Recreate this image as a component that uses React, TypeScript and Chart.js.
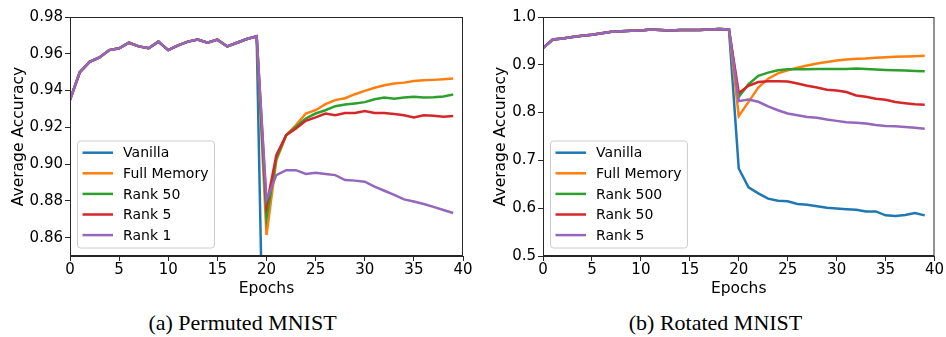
import React, { useEffect, useRef } from "react";
import { Chart, registerables } from "chart.js";

Chart.register(...registerables);

const epochs = [0, 1, 2, 3, 4, 5, 6, 7, 8, 9, 10, 11, 12, 13, 14, 15, 16, 17, 18, 19, 20, 21, 22, 23, 24, 25, 26, 27, 28, 29, 30, 31, 32, 33, 34, 35, 36, 37, 38, 39];
const xTicks = [0, 5, 10, 15, 20, 25, 30, 35, 40];

// (a) Permuted MNIST
const permTicksY = [0.86, 0.88, 0.9, 0.92, 0.94, 0.96, 0.98];
const permLabels = ["Vanilla", "Full Memory", "Rank 50", "Rank 5", "Rank 1"];
const permPhase1 = [0.935, 0.95, 0.9556, 0.958, 0.962, 0.963, 0.966, 0.964, 0.963, 0.9666, 0.962, 0.9646, 0.9666, 0.9677, 0.966, 0.9677, 0.964, 0.966, 0.968, 0.9695];
const permVanilla2 = [0.70, 0.71, 0.71, 0.70, 0.70, 0.70, 0.69, 0.69, 0.69, 0.69, 0.68, 0.68, 0.68, 0.68, 0.67, 0.67, 0.67, 0.67, 0.66, 0.66];
const permFull2 = [0.8614, 0.902, 0.9157, 0.9212, 0.9275, 0.9293, 0.9326, 0.9348, 0.9358, 0.938, 0.9398, 0.9415, 0.9429, 0.9438, 0.9443, 0.9452, 0.9456, 0.9458, 0.9461, 0.9465];
const permRank50_2 = [0.8705, 0.903, 0.9157, 0.9203, 0.9248, 0.9275, 0.9293, 0.9315, 0.9324, 0.933, 0.9337, 0.9353, 0.9362, 0.9355, 0.9362, 0.9366, 0.9362, 0.9364, 0.9368, 0.9378];
const permRank5_2 = [0.8773, 0.9049, 0.9157, 0.9194, 0.9235, 0.9254, 0.9275, 0.9266, 0.9278, 0.9278, 0.9288, 0.9278, 0.9278, 0.9272, 0.9266, 0.9254, 0.9265, 0.9263, 0.9257, 0.9261];
const permRank1_2 = [0.8804, 0.894, 0.8967, 0.8967, 0.8946, 0.8953, 0.8946, 0.894, 0.8913, 0.891, 0.8904, 0.8877, 0.8855, 0.8832, 0.8808, 0.8796, 0.8783, 0.8767, 0.875, 0.8734];

// (b) Rotated MNIST
const rotTicksY = [0.5, 0.6, 0.7, 0.8, 0.9, 1.0];
const rotLabels = ["Vanilla", "Full Memory", "Rank 500", "Rank 50", "Rank 5"];
const rotPhase1 = [0.935, 0.953, 0.955, 0.958, 0.961, 0.963, 0.966, 0.969, 0.97, 0.971, 0.972, 0.974, 0.973, 0.972, 0.973, 0.973, 0.973, 0.974, 0.975, 0.974];
const rotVanilla2 = [0.683, 0.6435, 0.631, 0.62, 0.6156, 0.6143, 0.609, 0.607, 0.604, 0.601, 0.5996, 0.598, 0.5968, 0.5933, 0.5933, 0.585, 0.5838, 0.586, 0.59, 0.585];
const rotFull2 = [0.7926, 0.8224, 0.8525, 0.871, 0.882, 0.8886, 0.894, 0.8985, 0.9027, 0.906, 0.909, 0.911, 0.9124, 0.9131, 0.9145, 0.916, 0.9166, 0.9173, 0.918, 0.9187];
const rotRank500_2 = [0.833, 0.8594, 0.877, 0.8837, 0.8886, 0.8907, 0.8907, 0.8907, 0.891, 0.891, 0.891, 0.8914, 0.892, 0.891, 0.89, 0.8893, 0.8886, 0.8879, 0.887, 0.8865];
const rotRank50_2 = [0.841, 0.856, 0.864, 0.8656, 0.8656, 0.865, 0.861, 0.856, 0.8526, 0.848, 0.8463, 0.843, 0.8358, 0.833, 0.829, 0.827, 0.822, 0.8198, 0.8177, 0.8163];
const rotRank5_2 = [0.824, 0.8274, 0.8226, 0.813, 0.805, 0.798, 0.7946, 0.791, 0.789, 0.7855, 0.7827, 0.78, 0.779, 0.777, 0.774, 0.772, 0.7715, 0.77, 0.7685, 0.7664];

const colors = ["#1f77b4", "#ff7f0e", "#2ca02c", "#d62728", "#9467bd"];
const FONT = "'DejaVu Sans', sans-serif";

const framePlugin = {
  id: "frame",
  afterDatasetsDraw(chart: any) {
    const { ctx, chartArea } = chart;
    ctx.save();
    ctx.strokeStyle = "#262626";
    ctx.lineWidth = 1;
    ctx.strokeRect(chartArea.left + 0.5, chartArea.top + 0.5, chartArea.right - chartArea.left - 1, chartArea.bottom - chartArea.top - 1);
    ctx.restore();
  },
};

const legendPlugin = {
  id: "innerLegend",
  afterDraw(chart: any) {
    const { ctx, chartArea } = chart;
    const ds = chart.data.datasets;
    ctx.save();
    ctx.font = `14px ${FONT}`;
    let maxW = 0;
    ds.forEach((d: any) => { maxW = Math.max(maxW, ctx.measureText(d.label).width); });
    const rowH = 20.6;
    const x0 = chartArea.left + 7.5;
    const h = 107;
    const y0 = chartArea.bottom - 8 - h;
    const w = 45.6 + maxW + 6;
    const r = 3;
    ctx.beginPath();
    ctx.moveTo(x0 + r, y0);
    ctx.lineTo(x0 + w - r, y0);
    ctx.quadraticCurveTo(x0 + w, y0, x0 + w, y0 + r);
    ctx.lineTo(x0 + w, y0 + h - r);
    ctx.quadraticCurveTo(x0 + w, y0 + h, x0 + w - r, y0 + h);
    ctx.lineTo(x0 + r, y0 + h);
    ctx.quadraticCurveTo(x0, y0 + h, x0, y0 + h - r);
    ctx.lineTo(x0, y0 + r);
    ctx.quadraticCurveTo(x0, y0, x0 + r, y0);
    ctx.closePath();
    ctx.fillStyle = "rgba(255,255,255,0.8)";
    ctx.fill();
    ctx.strokeStyle = "#cccccc";
    ctx.lineWidth = 1;
    ctx.stroke();
    ds.forEach((d: any, i: number) => {
      const cy = y0 + 11.7 + i * rowH;
      ctx.beginPath();
      ctx.strokeStyle = d.borderColor;
      ctx.lineWidth = 2.5;
      ctx.moveTo(x0 + 5, cy);
      ctx.lineTo(x0 + 35.5, cy);
      ctx.stroke();
      ctx.fillStyle = "#000";
      ctx.textBaseline = "middle";
      ctx.textAlign = "left";
      ctx.fillText(d.label, x0 + 45.6, cy + 1);
    });
    ctx.restore();
  },
};

function buildSeries(labels: string[], phase1: number[], phase2s: number[][]) {
  return labels.map((label, i) => ({
    label,
    data: epochs.map((e, j) => ({ x: e, y: j < phase1.length ? phase1[j] : phase2s[i][j - phase1.length] })),
    borderColor: colors[i],
    backgroundColor: colors[i],
    borderWidth: 2.5,
    pointRadius: 0,
    tension: 0,
    fill: false,
    order: labels.length - i,
    clip: 0,
  }));
}

function LineChart(props: { labels: string[]; phase1: number[]; phase2s: number[][]; yMin: number; yMax: number; yTicks: number[]; decimals: number; yTitlePad: number; padRight: number }) {
  const ref = useRef<HTMLCanvasElement>(null);
  useEffect(() => {
    const chart = new Chart(ref.current!, {
      type: "line",
      data: { datasets: buildSeries(props.labels, props.phase1, props.phase2s) as any },
      plugins: [framePlugin, legendPlugin],
      options: {
        animation: false,
        responsive: false,
        maintainAspectRatio: false,
        layout: { padding: { top: 17, right: props.padRight, bottom: 0, left: 0 } },
        plugins: { legend: { display: false }, tooltip: { enabled: false } },
        scales: {
          x: {
            type: "linear",
            min: 0,
            max: 40,
            afterBuildTicks: (s: any) => { s.ticks = xTicks.map((v) => ({ value: v })); },
            afterFit: (s: any) => { s.height = 44; },
            ticks: { color: "#000", font: { family: FONT, size: 15 }, padding: 0, maxRotation: 0, autoSkip: false },
            grid: { display: true, drawOnChartArea: false, drawTicks: true, tickLength: 5, color: "#262626" },
            border: { display: true, color: "#262626" },
            title: { display: true, text: "Epochs", color: "#000", font: { family: FONT, size: 15.5 }, padding: { top: 0, bottom: 2 } },
          },
          y: {
            type: "linear",
            min: props.yMin,
            max: props.yMax,
            afterBuildTicks: (s: any) => { s.ticks = props.yTicks.map((v) => ({ value: v })); },
            afterFit: (s: any) => { s.width = 70; },
            ticks: { color: "#000", font: { family: FONT, size: 15 }, padding: 2, callback: (v: any) => Number(v).toFixed(props.decimals) },
            grid: { display: true, drawOnChartArea: false, drawTicks: true, tickLength: 5, color: "#262626" },
            border: { display: true, color: "#262626" },
            title: { display: true, text: "Average Accuracy", color: "#000", font: { family: FONT, size: 15.5 }, padding: { top: props.yTitlePad, bottom: 0 } },
          },
        },
      },
    });
    return () => chart.destroy();
  }, []);
  return <canvas ref={ref} width={473} height={300} style={{ display: "block", width: 473, height: 300 }} />;
}

export default function App() {
  const caption: React.CSSProperties = { position: "absolute", top: 311, width: 473, textAlign: "center", fontFamily: "'Liberation Serif', 'Times New Roman', serif", fontSize: 22, lineHeight: "24px", color: "#000" };
  return (
    <div style={{ position: "absolute", left: 0, top: 0, width: 946, height: 337, background: "#fff" }}>
      <div style={{ position: "absolute", left: 0, top: 0 }}>
        <LineChart labels={permLabels} phase1={permPhase1} phase2s={[permVanilla2, permFull2, permRank50_2, permRank5_2, permRank1_2]} yMin={0.85} yMax={0.98} yTicks={permTicksY} decimals={2} yTitlePad={10} padRight={10} />
      </div>
      <div style={{ position: "absolute", left: 473, top: 0 }}>
        <LineChart labels={rotLabels} phase1={rotPhase1} phase2s={[rotVanilla2, rotFull2, rotRank500_2, rotRank50_2, rotRank5_2]} yMin={0.5} yMax={1.0} yTicks={rotTicksY} decimals={1} yTitlePad={19} padRight={11.5} />
      </div>
      <div style={{ ...caption, left: 6 }}>(a) Permuted MNIST</div>
      <div style={{ ...caption, left: 479 }}>(b) Rotated MNIST</div>
    </div>
  );
}
